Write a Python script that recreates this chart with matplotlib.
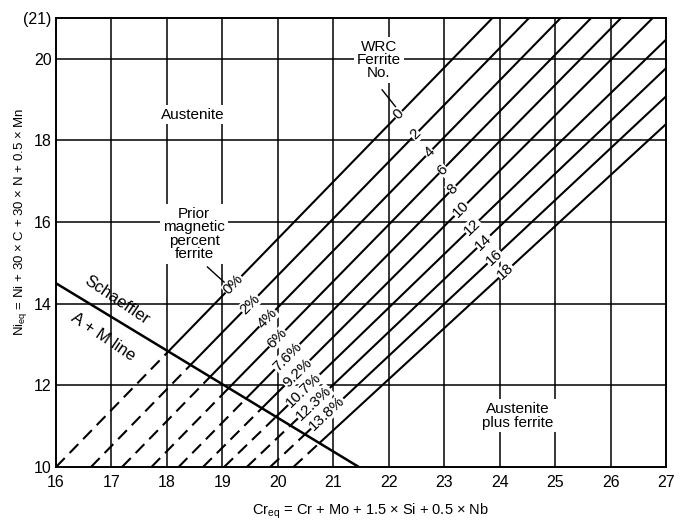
import numpy as np
import matplotlib
matplotlib.use("Agg")
import matplotlib.pyplot as plt

plt.rcParams['font.family'] = ['Liberation Sans', 'DejaVu Sans']
plt.rcParams['lines.scale_dashes'] = False

# iso-ferrite lines: Cr_eq where each line meets Ni_eq = 10, and upper end point
fn_numbers = [0, 2, 4, 6, 8, 10, 12, 14, 16, 18]
fn_x_at_10 = [16.0, 16.63, 17.19, 17.72, 18.21, 18.65, 19.03, 19.44, 19.86, 20.28]
fn_x_end = [23.87, 24.53, 25.10, 25.65, 26.19, 26.76, 27, 27, 27, 27]
fn_y_end = [21, 21, 21, 21, 21, 21, 20.47, 19.77, 19.08, 18.40]
fn_label_x = [22.18, 22.48, 22.73, 22.97, 23.15, 23.30, 23.51, 23.71, 23.90, 24.11]

pct_labels = ["0%", "2%", "4%", "6%", "7.6%", "9.2%", "10.7%", "12.3%", "13.8%"]
pct_label_x = [19.2, 19.5, 19.81, 19.99, 20.17, 20.35, 20.47, 20.65, 20.89]

# Schaeffler A + M line
am_x = [16.0, 21.46]
am_y = [14.5, 10.0]

x_ticks = list(range(16, 28))
y_ticks = [10, 12, 14, 16, 18, 20, 21]
y_ticklabels = ["10", "12", "14", "16", "18", "20", "(21)"]

fig = plt.figure(figsize=(6.85, 5.23), dpi=100)
ax = fig.add_axes([0.0818, 0.1071, 0.8905, 0.8585])
ax.set_xlim(16, 27)
ax.set_ylim(10, 21)

# grid
for x in x_ticks[1:-1]:
    ax.plot([x, x], [10, 21], color="black", lw=1.1, zorder=1)
for y in [12, 14, 16, 18, 20]:
    ax.plot([16, 27], [y, y], color="black", lw=1.1, zorder=1)

for s in ax.spines.values():
    s.set_linewidth(1.4)

ax.set_xticks(x_ticks)
ax.set_yticks(y_ticks)
ax.set_yticklabels(y_ticklabels)
ax.tick_params(length=0, labelsize=11.5, pad=3)
ax.tick_params(axis="x", pad=6)

# pixels per unit, for text angles
ppu_x = 0.8905 * 685 / 11
ppu_y = 0.8585 * 523 / 11

m = (am_y[1] - am_y[0]) / (am_x[1] - am_x[0])
ax.plot(am_x, am_y, color="black", lw=1.8, zorder=3)

for i in range(len(fn_numbers)):
    x0 = fn_x_at_10[i]
    s = (fn_y_end[i] - 10) / (fn_x_end[i] - x0)
    xi = (am_y[0] - 10 + s * x0 - am_x[0] * m) / (s - m)
    yi = 10 + s * (xi - x0)
    ax.plot([x0, xi], [10, yi], color="black", lw=1.5, linestyle=(0, (9, 5)), zorder=2)
    ax.plot([xi, fn_x_end[i]], [yi, fn_y_end[i]], color="black", lw=1.5, zorder=2)

    ang = np.degrees(np.arctan(s * ppu_y / ppu_x))
    lx = fn_label_x[i]
    ax.text(lx, 10 + s * (lx - x0), str(fn_numbers[i]), rotation=ang, rotation_mode="anchor",
            ha="center", va="center", fontsize=11, zorder=5,
            bbox=dict(facecolor="white", edgecolor="none", pad=0.3))
    if i < len(pct_labels):
        px = pct_label_x[i]
        ax.text(px, 10 + s * (px - x0), pct_labels[i], rotation=ang, rotation_mode="anchor",
                ha="center", va="center", fontsize=11, zorder=5,
                bbox=dict(facecolor="white", edgecolor="none", pad=0.3))

box = dict(facecolor="white", edgecolor="none", pad=2)
ax.text(18.47, 18.63, "Austenite", ha="center", va="center", fontsize=11, bbox=box, zorder=6)
ax.text(18.49, 15.71, "Prior\nmagnetic\npercent\nferrite", ha="center", va="center",
        fontsize=11, linespacing=0.95, bbox=box, zorder=6)
ax.plot([18.73, 19.03], [14.90, 14.53], color="black", lw=1.0, zorder=6)
ax.text(21.82, 19.97, "WRC\nFerrite\nNo.", ha="center", va="center", fontsize=11,
        linespacing=0.95, bbox=box, zorder=6)
ax.plot([21.88, 22.12], [19.24, 18.83], color="black", lw=1.0, zorder=6)
ax.text(24.32, 11.25, "Austenite\nplus ferrite", ha="center", va="center", fontsize=11,
        linespacing=0.95, bbox=box, zorder=6)
ax.text(17.10, 14.09, "Schaeffler", rotation=-34, rotation_mode="anchor",
        ha="center", va="center", fontsize=12, zorder=6)
ax.text(16.85, 13.19, "A + M line", rotation=-34, rotation_mode="anchor",
        ha="center", va="center", fontsize=12, zorder=6)

fig.text(370 / 685, 1 - 511 / 523, r"Cr$_\mathregular{eq}$ = Cr + Mo + 1.5 × Si + 0.5 × Nb",
         ha="center", va="center", fontsize=10.5)
fig.text(21 / 685, 1 - 222 / 523, r"Ni$_\mathregular{eq}$ = Ni + 30 × C + 30 × N + 0.5 × Mn",
         ha="center", va="center", rotation=90, fontsize=9.5)

fig.savefig("out.png", dpi=100)
